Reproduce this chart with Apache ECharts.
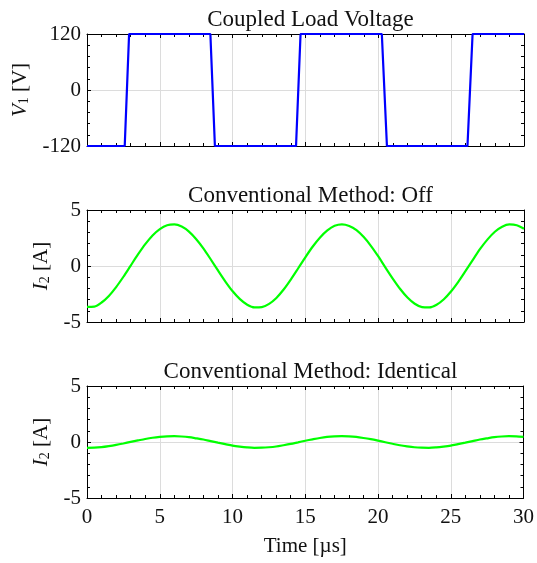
<!DOCTYPE html>
<html>
<head>
<meta charset="utf-8">
<script src="https://cdn.jsdelivr.net/npm/echarts@6/dist/echarts.min.js"></script>
<style>
html, body { margin: 0; padding: 0; background: #fff; }
#chart { width: 537px; height: 563px; }
</style>
</head>
<body>
<div id="chart"></div>
<script>
// panel titles
const panelTitles = ['Coupled Load Voltage', 'Conventional Method: Off', 'Conventional Method: Identical']

// top panel: switching voltage corners (µs, V)
const voltageTime = [0, 2.59, 2.89, 8.47, 8.78, 14.35, 14.66, 20.24, 20.59, 26.12, 26.47, 30]
const voltageV = [-120, -120, 120, 120, -120, -120, 120, 120, -120, -120, 120, 120]

// sample times for the current traces (µs)
const timeUs = [0, 0.5, 1, 1.5, 2, 2.5, 3, 3.5, 4, 4.5, 5, 5.5, 6, 6.5, 7, 7.5, 8, 8.5, 9, 9.5,
    10, 10.5, 11, 11.5, 12, 12.5, 13, 13.5, 14, 14.5, 15, 15.5, 16, 16.5, 17, 17.5, 18, 18.5, 19, 19.5,
    20, 20.5, 21, 21.5, 22, 22.5, 23, 23.5, 24, 24.5, 25, 25.5, 26, 26.5, 27, 27.5, 28, 28.5, 29, 29.5, 30]

// I2 with the conventional method off (A)
const currentOff = [-3.65, -3.62, -3.26, -2.67, -1.88, -0.96, 0.04, 1.03, 1.95, 2.73, 3.30, 3.64, 3.71, 3.52, 3.07, 2.39, 1.55, 0.58, -0.42, -1.39,
    -2.26, -2.96, -3.46, -3.70, -3.67, -3.38, -2.85, -2.10, -1.19, -0.20, 0.80, 1.74, 2.55, 3.18, 3.59, 3.72, 3.58, 3.20, 2.58, 1.78,
    0.85, -0.16, -1.14, -2.05, -2.81, -3.37, -3.67, -3.70, -3.46, -2.97, -2.26, -1.39, -0.42, 0.57, 1.55, 2.38, 3.06, 3.51, 3.71, 3.64, 3.33]

// I2 with identical conventional method (A)
const currentIdentical = [-0.52, -0.51, -0.46, -0.37, -0.26, -0.13, 0.01, 0.14, 0.27, 0.38, 0.46, 0.51, 0.52, 0.49, 0.43, 0.33, 0.22, 0.08, -0.06, -0.19,
    -0.32, -0.41, -0.48, -0.52, -0.51, -0.47, -0.40, -0.29, -0.17, -0.03, 0.11, 0.24, 0.36, 0.45, 0.50, 0.52, 0.50, 0.45, 0.36, 0.25,
    0.12, -0.02, -0.16, -0.29, -0.39, -0.47, -0.51, -0.52, -0.48, -0.41, -0.32, -0.19, -0.06, 0.08, 0.22, 0.33, 0.43, 0.49, 0.52, 0.51, 0.46]

const FONT = 'Liberation Serif'
const gridTops = [34, 210, 386]
const gridLeft = 87
const gridWidth = 437
const gridHeight = 112

const yRanges = [
    { min: -120, max: 120, interval: 120, name: '{i|V}{s|1} [V]', gap: 53 },
    { min: -5, max: 5, interval: 5, name: '{i|I}{s|2} [A]', gap: 31 },
    { min: -5, max: 5, interval: 5, name: '{i|I}{s|2} [A]', gap: 31 }
]

let chart = echarts.init(document.getElementById('chart'))

let grids = []
let titles = []
let xAxes = []
let yAxes = []
let series = []

const tickStyle = {
    axisLine: { show: true, onZero: false, lineStyle: { color: '#000', width: 1 } },
    axisTick: { show: true, inside: true, length: 4, lineStyle: { color: '#000' } },
    minorTick: { show: true, splitNumber: 5, length: 3, lineStyle: { color: '#000' } }
}

gridTops.forEach((top, i) => {
    grids.push({ left: gridLeft, top: top, width: gridWidth, height: gridHeight })
    titles.push({
        text: panelTitles[i],
        left: gridLeft + gridWidth / 2,
        top: top - 31,
        textAlign: 'center',
        textStyle: { fontFamily: FONT, fontSize: 23, fontWeight: 'normal', color: '#111' }
    })
    let last = i === 2
    xAxes.push(Object.assign({
        type: 'value', gridIndex: i, position: 'bottom', min: 0, max: 30, interval: 5,
        axisLabel: { show: last, fontFamily: FONT, fontSize: 21, color: '#111', margin: 9 },
        splitLine: { show: true, lineStyle: { color: '#dcdcdc', width: 1 } },
        name: last ? 'Time [µs]' : '', nameLocation: 'middle', nameGap: 38,
        nameTextStyle: { fontFamily: FONT, fontSize: 21, color: '#111' }
    }, tickStyle))
    xAxes.push(Object.assign({
        type: 'value', gridIndex: i, position: 'top', min: 0, max: 30, interval: 5,
        axisLabel: { show: false }, splitLine: { show: false }
    }, tickStyle))
    let r = yRanges[i]
    yAxes.push(Object.assign({
        type: 'value', gridIndex: i, position: 'left', min: r.min, max: r.max, interval: r.interval,
        axisLabel: { fontFamily: FONT, fontSize: 21, color: '#111', margin: 6 },
        splitLine: { show: true, lineStyle: { color: '#dcdcdc', width: 1 } },
        name: r.name, nameLocation: 'middle', nameGap: r.gap, nameRotate: 90,
        nameTextStyle: {
            fontFamily: FONT, fontSize: 21, color: '#111',
            rich: {
                i: { fontFamily: FONT, fontSize: 21, fontStyle: 'italic', color: '#111' },
                s: { fontFamily: FONT, fontSize: 14, color: '#111', padding: [9, 0, 0, 0] }
            }
        }
    }, tickStyle))
    yAxes.push(Object.assign({
        type: 'value', gridIndex: i, position: 'right', min: r.min, max: r.max, interval: r.interval,
        axisLabel: { show: false }, splitLine: { show: false }
    }, tickStyle))
})

series.push({
    type: 'line', xAxisIndex: 0, yAxisIndex: 0, showSymbol: false, animation: false,
    lineStyle: { color: '#0000ff', width: 2.2 },
    data: voltageTime.map((t, k) => [t, voltageV[k]])
})
series.push({
    type: 'line', xAxisIndex: 2, yAxisIndex: 2, showSymbol: false, animation: false, smooth: 0.3,
    lineStyle: { color: '#00ff00', width: 2.2 },
    data: timeUs.map((t, k) => [t, currentOff[k]])
})
series.push({
    type: 'line', xAxisIndex: 4, yAxisIndex: 4, showSymbol: false, animation: false, smooth: 0.3,
    lineStyle: { color: '#00ff00', width: 2.2 },
    data: timeUs.map((t, k) => [t, currentIdentical[k]])
})

chart.setOption({
    animation: false,
    title: titles,
    grid: grids,
    xAxis: xAxes,
    yAxis: yAxes,
    series: series
})
</script>
</body>
</html>
